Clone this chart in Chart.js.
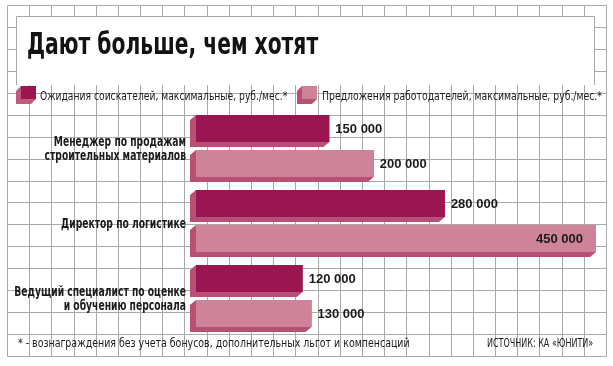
<!DOCTYPE html>
<html>
<head>
<meta charset="utf-8">
<script src="https://cdn.jsdelivr.net/npm/chart.js@4/dist/chart.umd.min.js"></script>
<style>
  html, body { margin: 0; padding: 0; background: #fff; }
  #wrap { position: relative; width: 613px; height: 366px; overflow: hidden; }
  #c { position: absolute; left: 0; top: 0; }
  .t { position: absolute; white-space: nowrap; color: #1c1a1b;
       font-family: "DejaVu Sans Condensed", "Liberation Sans Narrow", sans-serif; }
  #title { left: 27px; top: 29px; font-size: 30px; line-height: 30px; font-weight: bold; color: #141213; transform-origin: left center; }
  .leg { top: 89px; font-size: 13px; line-height: 13px; transform-origin: left center; }
  #leg1 { left: 40px; }
  #leg2 { left: 322px; }
  .foot { top: 336px; font-size: 13px; line-height: 13px; }
  #foot1 { left: 18px; transform-origin: left center; }
  #foot2 { right: 20px; transform-origin: right center; }
</style>
</head>
<body>
<div id="wrap">
  <canvas id="c" width="613" height="366"></canvas>
  <div class="t" id="title"></div>
  <div class="t leg" id="leg1"></div>
  <div class="t leg" id="leg2"></div>
  <div class="t foot" id="foot1"></div>
  <div class="t foot" id="foot2"></div>
</div>
<script>
// ---- data ----
const titleText = "Дают больше, чем хотят";
const categories = [
  ["Менеджер по продажам", "строительных материалов"],
  "Директор по логистике",
  ["Ведущий специалист по оценке", "и обучению персонала"]
];
const seriesNames = [
  "Ожидания соискателей, максимальные, руб./мес.*",
  "Предложения работодателей, максимальные, руб./мес.*"
];
const expectations = [150000, 280000, 120000];
const offers = [200000, 450000, 130000];
const xTicks = [0, 450000];
const footnote = "* - вознаграждения без учета бонусов, дополнительных льгот и компенсаций";
const sourceText = "ИСТОЧНИК: КА «ЮНИТИ»";

// ---- styles ----
const FACE = ["#9b1650", "#cf8399"];
const SIDE = ["#b84f74", "#b84f74"];
const LEG_SIDE = ["#c05a7e", "#b8506f"];
const NARROW = '"DejaVu Sans Condensed", "Liberation Sans Narrow", sans-serif';
const LABEL_SCALE = 0.73;

// HTML texts, compressed horizontally to the condensed width of the original
const textBoxes = [
  ['title', titleText, 291],
  ['leg1', seriesNames[0], 247],
  ['leg2', seriesNames[1], 280],
  ['foot1', footnote, 392],
  ['foot2', sourceText, 106]
];
textBoxes.forEach(([id, txt, w]) => {
  const el = document.getElementById(id);
  el.textContent = txt;
  const k = w / el.offsetWidth;
  el.style.transform = 'scaleX(' + k.toFixed(4) + ')';
});

function fmt(n) { return String(n).replace(/\B(?=(\d{3})+(?!\d))/g, ' '); }

function extrude(ctx, x0, y0, x1, y1, dx, dy, color) {
  ctx.beginPath();
  ctx.moveTo(x0, y0);
  ctx.lineTo(x0 + dx, y0 + dy);
  ctx.lineTo(x0 + dx, y1 + dy);
  ctx.lineTo(x1 + dx, y1 + dy);
  ctx.lineTo(x1, y1);
  ctx.lineTo(x1, y0);
  ctx.closePath();
  ctx.fillStyle = color;
  ctx.fill();
}

const bgPlugin = {
  id: 'bg',
  beforeDraw(chart) {
    const ctx = chart.ctx;
    const W = chart.width, H = chart.height;
    ctx.save();
    ctx.fillStyle = '#ffffff';
    ctx.fillRect(0, 0, W, H);
    ctx.strokeStyle = '#a9a9a9';
    ctx.lineWidth = 1;
    ctx.beginPath();
    for (let i = 0; i <= 27; i++) {
      const x = Math.round(7 + i * 22.185) + 0.5;
      ctx.moveTo(x, 5.5); ctx.lineTo(x, 356.5);
    }
    for (let j = 0; j <= 16; j++) {
      const y = Math.round(5 + j * 21.94) + 0.5;
      ctx.moveTo(7.5, y); ctx.lineTo(606.5, y);
    }
    ctx.stroke();
    // title box
    ctx.fillStyle = '#ffffff';
    ctx.fillRect(17, 17, 577, 68);
    ctx.beginPath();
    ctx.moveTo(16.5, 85); ctx.lineTo(16.5, 16.5); ctx.lineTo(594.5, 16.5); ctx.lineTo(594.5, 85);
    ctx.stroke();
    // legend cubes
    const legX = [21, 302];
    for (let k = 0; k < 2; k++) {
      const x0 = legX[k], y0 = 86, x1 = x0 + 15, y1 = 99;
      extrude(ctx, x0, y0, x1, y1, -5, 5, LEG_SIDE[k]);
      ctx.fillStyle = FACE[k];
      ctx.fillRect(x0, y0, x1 - x0, y1 - y0);
    }
    ctx.restore();
  }
};

const barPlugin = {
  id: 'bar3d',
  beforeDatasetsDraw(chart) {
    const ctx = chart.ctx;
    ctx.save();
    chart.data.datasets.forEach((ds, di) => {
      chart.getDatasetMeta(di).data.forEach(el => {
        const p = el.getProps(['x', 'y', 'base', 'height'], true);
        const x0 = Math.min(p.base, p.x), x1 = Math.max(p.base, p.x);
        const y0 = p.y - p.height / 2, y1 = p.y + p.height / 2;
        extrude(ctx, x0, y0, x1, y1, -6, 5, SIDE[di]);
      });
    });
    ctx.restore();
  },
  afterDatasetsDraw(chart) {
    const ctx = chart.ctx;
    const area = chart.chartArea;
    ctx.save();
    // value labels
    ctx.font = 'bold 13px "Liberation Sans", Arial, sans-serif';
    ctx.fillStyle = '#1c1a1b';
    ctx.textBaseline = 'middle';
    chart.data.datasets.forEach((ds, di) => {
      chart.getDatasetMeta(di).data.forEach((el, i) => {
        const p = el.getProps(['x', 'y'], true);
        const txt = fmt(ds.data[i]);
        const w = ctx.measureText(txt).width;
        if (p.x + 6 + w > area.right) {
          ctx.textAlign = 'right';
          ctx.fillText(txt, p.x - 13, p.y + 1);
        } else {
          ctx.textAlign = 'left';
          ctx.fillText(txt, p.x + 6, p.y + 1);
        }
      });
    });
    // category labels (condensed), positioned by the y scale
    const yScale = chart.scales.y;
    ctx.font = 'bold 14px ' + NARROW;
    ctx.textAlign = 'right';
    ctx.textBaseline = 'middle';
    const lh = 13.5;
    chart.data.labels.forEach((lab, i) => {
      const lines = Array.isArray(lab) ? lab : [lab];
      const cy = yScale.getPixelForTick(i) + 3.5;
      lines.forEach((line, li) => {
        const y = cy + (li - (lines.length - 1) / 2) * lh;
        ctx.save();
        ctx.translate(186, y);
        ctx.scale(LABEL_SCALE, 1);
        ctx.fillText(line, 0, 0);
        ctx.restore();
      });
    });
    ctx.restore();
  }
};

new Chart(document.getElementById('c'), {
  type: 'bar',
  data: {
    labels: categories,
    datasets: [
      { label: seriesNames[0], data: expectations, backgroundColor: FACE[0] },
      { label: seriesNames[1], data: offers, backgroundColor: FACE[1] }
    ]
  },
  options: {
    indexAxis: 'y',
    responsive: false,
    animation: false,
    events: [],
    categoryPercentage: 0.9333,
    barPercentage: 0.7714,
    borderWidth: 0,
    layout: { padding: { left: 0, right: 17, top: 108.5, bottom: 32.5 } },
    scales: {
      x: {
        display: false,
        min: xTicks[0],
        max: xTicks[1]
      },
      y: {
        afterFit(scale) { scale.width = 196; },
        grid: { display: false, drawTicks: false },
        border: { display: false },
        ticks: { display: false }
      }
    },
    plugins: {
      legend: { display: false },
      tooltip: { enabled: false }
    }
  },
  plugins: [bgPlugin, barPlugin]
});
</script>
</body>
</html>
